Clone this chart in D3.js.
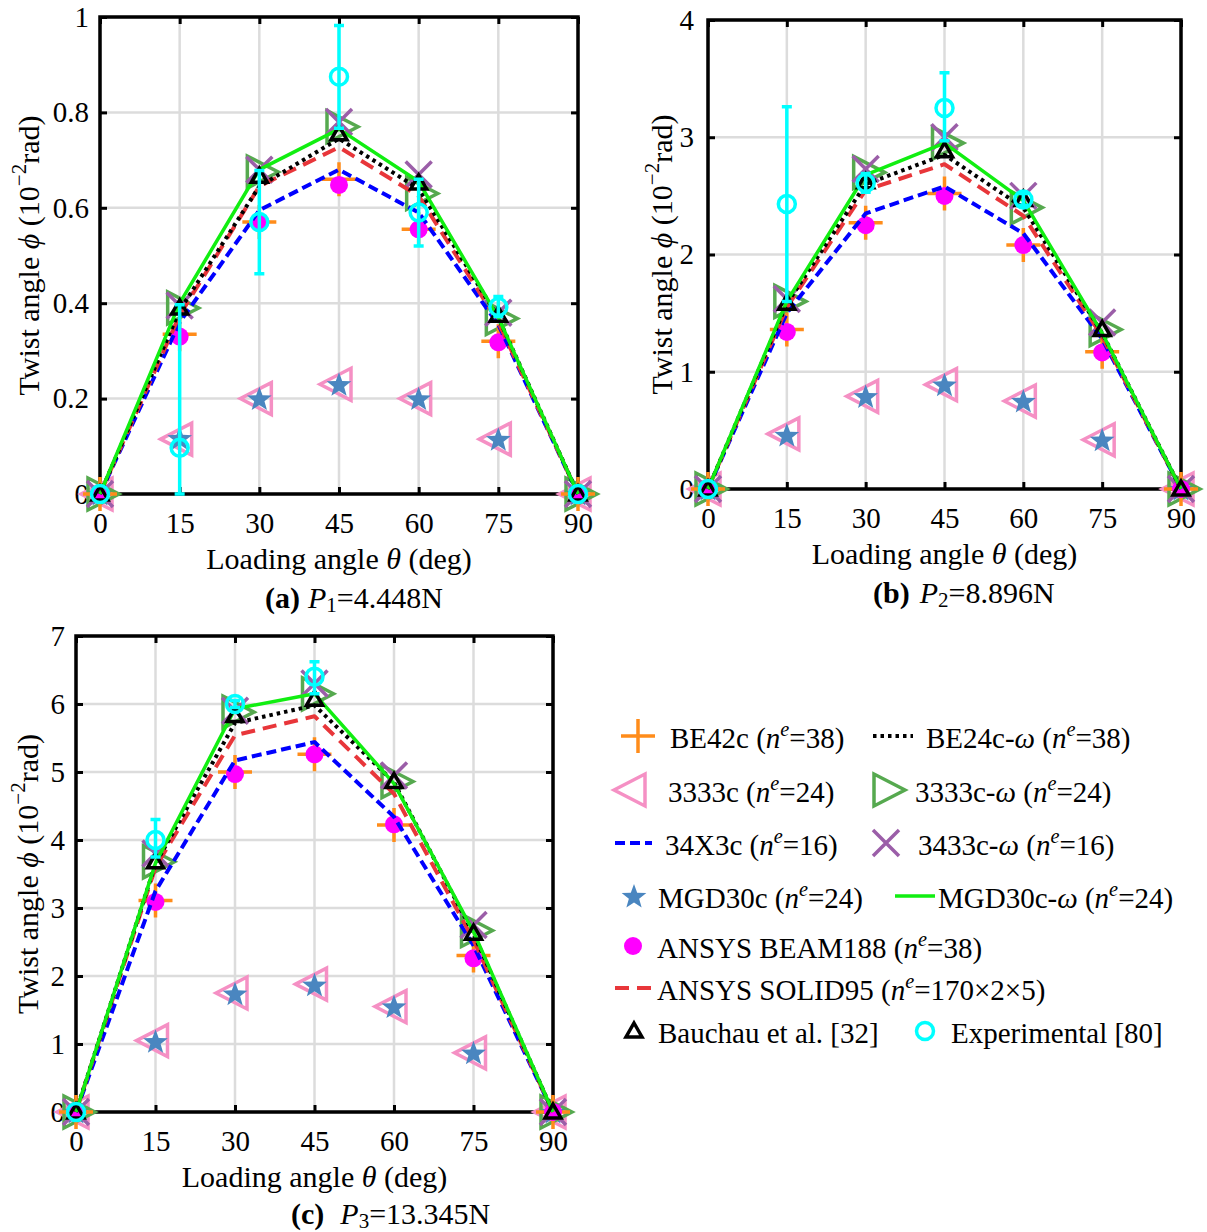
<!DOCTYPE html>
<html><head><meta charset="utf-8">
<script src="https://cdn.jsdelivr.net/npm/d3@7"></script>
<style>
body{margin:0;background:#fff}
svg{display:block}
text{font-family:"Liberation Serif","Times New Roman",serif;fill:#000}
</style>
</head><body>
<svg id="chart" width="1207" height="1232"></svg>
<script>
// ---------- data ----------
const theta = [0, 15, 30, 45, 60, 75, 90];
const xTicks = [0, 15, 30, 45, 60, 75, 90];
const xTickLabels = ["0", "15", "30", "45", "60", "75", "90"];
const yTicksA = [0, 0.2, 0.4, 0.6, 0.8, 1];
const yTickLabelsA = ["0", "0.2", "0.4", "0.6", "0.8", "1"];
const yTicksB = [0, 1, 2, 3, 4];
const yTickLabelsB = ["0", "1", "2", "3", "4"];
const yTicksC = [0, 1, 2, 3, 4, 5, 6, 7];
const yTickLabelsC = ["0", "1", "2", "3", "4", "5", "6", "7"];

// panel (a) P1 = 4.448 N
const be42cA   = [0, 0.335, 0.57, 0.66, 0.555, 0.32, 0];
const be24cwA  = [0, 0.385, 0.645, 0.745, 0.64, 0.37, 0];
const c3333A   = [0, 0.115, 0.2, 0.23, 0.2, 0.115, 0];
const c3333wA  = [0, 0.39, 0.675, 0.77, 0.63, 0.368, 0];
const x34x3cA  = [0, 0.36, 0.595, 0.68, 0.59, 0.355, 0];
const c3433wA  = [0, 0.395, 0.68, 0.78, 0.67, 0.38, 0];
const mgd30cA  = [0, 0.117, 0.2, 0.23, 0.2, 0.115, 0];
const mgd30cwA = [0, 0.4, 0.68, 0.765, 0.655, 0.37, 0];
const beam188A = [0, 0.33, 0.57, 0.648, 0.555, 0.318, 0];
const solid95A = [0, 0.375, 0.645, 0.727, 0.625, 0.36, 0];
const bauchauA = [0, 0.39, 0.666, 0.755, 0.652, 0.375, 0];
const expThetaA = [0, 15, 30, 45, 60, 75, 90];
const expA     = [0, 0.097, 0.57, 0.875, 0.59, 0.392, 0];
const expLoA   = [0, 0, 0.462, 0.767, 0.52, 0.372, 0];
const expHiA   = [0, 0.397, 0.678, 0.982, 0.66, 0.414, 0];

// panel (b) P2 = 8.896 N
const be42cB   = [0, 1.36, 2.27, 2.52, 2.08, 1.17, 0];
const be24cwB  = [0, 1.58, 2.6, 2.85, 2.4, 1.33, 0];
const c3333B   = [0, 0.47, 0.79, 0.89, 0.75, 0.42, 0];
const c3333wB  = [0, 1.6, 2.7, 2.95, 2.4, 1.36, 0];
const x34x3cB  = [0, 1.5, 2.35, 2.58, 2.18, 1.28, 0];
const c3433wB  = [0, 1.62, 2.73, 3.0, 2.5, 1.42, 0];
const mgd30cB  = [0, 0.46, 0.79, 0.89, 0.75, 0.42, 0];
const mgd30cwB = [0, 1.6, 2.68, 2.95, 2.46, 1.33, 0];
const beam188B = [0, 1.34, 2.25, 2.5, 2.08, 1.165, 0];
const solid95B = [0, 1.55, 2.55, 2.77, 2.33, 1.3, 0];
const bauchauB = [0, 1.585, 2.62, 2.885, 2.47, 1.36, 0];
const expThetaB = [0, 15, 30, 45, 60];
const expB     = [0, 2.43, 2.61, 3.25, 2.47];
const expLoB   = [0, 1.6, 2.53, 2.97, 2.42];
const expHiB   = [0, 3.26, 2.69, 3.55, 2.52];

// panel (c) P3 = 13.345 N
const be42cC   = [0, 3.11, 5.0, 5.26, 4.22, 2.3, 0];
const be24cwC  = [0, 3.65, 5.72, 5.98, 4.85, 2.62, 0];
const c3333C   = [0, 1.05, 1.75, 1.88, 1.55, 0.87, 0];
const c3333wC  = [0, 3.68, 5.88, 6.15, 4.86, 2.67, 0];
const x34x3cC  = [0, 3.25, 5.17, 5.44, 4.34, 2.45, 0];
const c3433wC  = [0, 3.8, 5.9, 6.3, 4.95, 2.75, 0];
const mgd30cC  = [0, 1.04, 1.74, 1.87, 1.55, 0.87, 0];
const mgd30cwC = [0, 3.66, 5.93, 6.15, 4.83, 2.65, 0];
const beam188C = [0, 3.09, 4.97, 5.26, 4.23, 2.26, 0];
const solid95C = [0, 3.6, 5.54, 5.82, 4.68, 2.53, 0];
const bauchauC = [0, 3.68, 5.83, 6.07, 4.86, 2.63, 0];
const expThetaC = [0, 15, 30, 45];
const expC     = [0, 4.0, 6.0, 6.4];
const expLoC   = [0, 3.75, 5.95, 6.15];
const expHiC   = [0, 4.3, 6.05, 6.62];

// legend labels (flags: i = italic, b = bold, sup / sub)
const legendLabels = {
  be42c:   [["BE42c ("], ["n","i"], ["e","i sup"], ["=38)"]],
  be24cw:  [["BE24c-"], ["ω","i"], [" ("], ["n","i"], ["e","i sup"], ["=38)"]],
  c3333:   [["3333c ("], ["n","i"], ["e","i sup"], ["=24)"]],
  c3333w:  [["3333c-"], ["ω","i"], [" ("], ["n","i"], ["e","i sup"], ["=24)"]],
  x34x3c:  [["34X3c ("], ["n","i"], ["e","i sup"], ["=16)"]],
  c3433w:  [["3433c-"], ["ω","i"], [" ("], ["n","i"], ["e","i sup"], ["=16)"]],
  mgd30c:  [["MGD30c ("], ["n","i"], ["e","i sup"], ["=24)"]],
  mgd30cw: [["MGD30c-"], ["ω","i"], [" ("], ["n","i"], ["e","i sup"], ["=24)"]],
  beam188: [["ANSYS BEAM188 ("], ["n","i"], ["e","i sup"], ["=38)"]],
  solid95: [["ANSYS SOLID95 ("], ["n","i"], ["e","i sup"], ["=170×2×5)"]],
  bauchau: [["Bauchau et al. [32]"]],
  exp:     [["Experimental [80]"]]
};

// ---------- styles ----------
const style = {
  be42c:   {type:"plus",  color:"#ff8c1a"},
  be24cw:  {type:"line",  color:"#000000", dash:"3.5,4", width:4},
  c3333:   {type:"tril",  color:"#f590c4"},
  c3333w:  {type:"trir",  color:"#56a94f"},
  x34x3c:  {type:"line",  color:"#0000ff", dash:"10,5", width:4},
  c3433w:  {type:"cross", color:"#9b5ea8"},
  mgd30c:  {type:"star",  color:"#4a86c0"},
  mgd30cw: {type:"line",  color:"#11ee11", dash:null, width:3.5},
  beam188: {type:"dot",   color:"#ff00ff"},
  solid95: {type:"line",  color:"#e8363a", dash:"14,8", width:4},
  bauchau: {type:"triu",  color:"#000000"},
  exp:     {type:"circ",  color:"#00ffff"}
};
const drawOrder = ["c3333","mgd30c","c3333w","c3433w","be42c","beam188","x34x3c","solid95","be24cw","mgd30cw","bauchau"];

const panels = [
  {x0:100, x1:578, y0:17, y1:494, ymax:1, yTicks:yTicksA, yLabels:yTickLabelsA, ylabX:39, ytp:11,
   data:{be42c:be42cA, be24cw:be24cwA, c3333:c3333A, c3333w:c3333wA, x34x3c:x34x3cA, c3433w:c3433wA,
         mgd30c:mgd30cA, mgd30cw:mgd30cwA, beam188:beam188A, solid95:solid95A, bauchau:bauchauA},
   expT:expThetaA, exp:expA, lo:expLoA, hi:expHiA,
   cap:{x:265, y:608, tag:"(a)", sub:"1", val:"=4.448N", gap:8}},
  {x0:708, x1:1181, y0:20, y1:489, ymax:4, yTicks:yTicksB, yLabels:yTickLabelsB, ylabX:672, ytp:14,
   data:{be42c:be42cB, be24cw:be24cwB, c3333:c3333B, c3333w:c3333wB, x34x3c:x34x3cB, c3433w:c3433wB,
         mgd30c:mgd30cB, mgd30cw:mgd30cwB, beam188:beam188B, solid95:solid95B, bauchau:bauchauB},
   expT:expThetaB, exp:expB, lo:expLoB, hi:expHiB,
   cap:{x:873, y:603, tag:"(b)", sub:"2", val:"=8.896N", gap:10}},
  {x0:76, x1:553, y0:636, y1:1112, ymax:7, yTicks:yTicksC, yLabels:yTickLabelsC, ylabX:38, ytp:11,
   data:{be42c:be42cC, be24cw:be24cwC, c3333:c3333C, c3333w:c3333wC, x34x3c:x34x3cC, c3433w:c3433wC,
         mgd30c:mgd30cC, mgd30cw:mgd30cwC, beam188:beam188C, solid95:solid95C, bauchau:bauchauC},
   expT:expThetaC, exp:expC, lo:expLoC, hi:expHiC,
   cap:{x:291, y:1224, tag:"(c)", sub:"3", val:"=13.345N", gap:16}}
];

const svg = d3.select("#chart");

// ---------- helpers ----------
function richText(g, x, y, parts, fs, anchor, subShift) {
  const t = g.append("text").attr("x", x).attr("y", y).attr("font-size", fs)
    .attr("text-anchor", anchor || "start");
  let shift = 0;
  parts.forEach(p => {
    const f = (p[1] || "").split(" ");
    const ts = t.append("tspan").text(p[0]);
    if (f.includes("i")) ts.attr("font-style", "italic");
    if (f.includes("b")) ts.attr("font-weight", "bold");
    let target = 0;
    if (f.includes("sup")) target = -0.42 * fs;
    if (f.includes("sub")) target = (subShift || 0.2) * fs;
    if (target !== 0) ts.attr("font-size", fs * 0.7);
    if (target !== shift) { ts.attr("dy", target - shift); shift = target; }
    if (p[2]) ts.attr("dx", p[2]);
  });
  return t;
}

function starPath(cx, cy, R, r) {
  const pts = [];
  for (let i = 0; i < 10; i++) {
    const a = -Math.PI / 2 + i * Math.PI / 5;
    const rad = i % 2 === 0 ? R : r;
    pts.push([cx + rad * Math.cos(a), cy + rad * Math.sin(a)]);
  }
  return "M" + pts.map(p => p.join(",")).join("L") + "Z";
}

function marker(g, type, color, cx, cy) {
  switch (type) {
    case "plus":
      g.append("path").attr("d", `M${cx-17},${cy}H${cx+17}M${cx},${cy-17}V${cy+17}`)
        .attr("stroke", color).attr("stroke-width", 3.5).attr("fill", "none");
      break;
    case "cross":
      g.append("path").attr("d", `M${cx-13},${cy-13}L${cx+13},${cy+13}M${cx-13},${cy+13}L${cx+13},${cy-13}`)
        .attr("stroke", color).attr("stroke-width", 3.5).attr("fill", "none");
      break;
    case "tril":
      g.append("path").attr("d", `M${cx-19},${cy}L${cx+12},${cy-16}L${cx+12},${cy+16}Z`)
        .attr("stroke", color).attr("stroke-width", 3.5).attr("fill", "none");
      break;
    case "trir":
      g.append("path").attr("d", `M${cx+19},${cy}L${cx-12},${cy-16}L${cx-12},${cy+16}Z`)
        .attr("stroke", color).attr("stroke-width", 3.5).attr("fill", "none");
      break;
    case "triu":
      g.append("path").attr("d", `M${cx},${cy-8}L${cx+8},${cy+6}L${cx-8},${cy+6}Z`)
        .attr("stroke", color).attr("stroke-width", 3.5).attr("fill", "none");
      break;
    case "star":
      g.append("path").attr("d", starPath(cx, cy + 1, 13, 5.4)).attr("fill", color);
      break;
    case "dot":
      g.append("circle").attr("cx", cx).attr("cy", cy).attr("r", 9).attr("fill", color);
      break;
    case "circ":
      g.append("circle").attr("cx", cx).attr("cy", cy).attr("r", 8.5)
        .attr("fill", "none").attr("stroke", color).attr("stroke-width", 3.5);
      break;
  }
}

// ---------- panels ----------
panels.forEach(P => {
  const g = svg.append("g");
  const x = d3.scaleLinear().domain([0, 90]).range([P.x0, P.x1]);
  const y = d3.scaleLinear().domain([0, P.ymax]).range([P.y1, P.y0]);

  // grid
  const grid = g.append("g").attr("stroke", "#dcdcdc").attr("stroke-width", 2.5);
  xTicks.forEach(t => grid.append("line").attr("x1", x(t)).attr("x2", x(t)).attr("y1", P.y0).attr("y2", P.y1));
  P.yTicks.forEach(t => grid.append("line").attr("x1", P.x0).attr("x2", P.x1).attr("y1", y(t)).attr("y2", y(t)));

  // axes
  const fmtX = d => xTickLabels[xTicks.indexOf(d)];
  const fmtY = d => P.yLabels[P.yTicks.indexOf(d)];
  const ax = [
    g.append("g").attr("transform", `translate(0,${P.y1})`).call(d3.axisBottom(x).tickValues(xTicks).tickFormat(fmtX).tickSize(-7).tickPadding(10)),
    g.append("g").attr("transform", `translate(0,${P.y0})`).call(d3.axisTop(x).tickValues(xTicks).tickFormat("").tickSize(-7)),
    g.append("g").attr("transform", `translate(${P.x0},0)`).call(d3.axisLeft(y).tickValues(P.yTicks).tickFormat(fmtY).tickSize(-7).tickPadding(P.ytp)),
    g.append("g").attr("transform", `translate(${P.x1},0)`).call(d3.axisRight(y).tickValues(P.yTicks).tickFormat("").tickSize(-7))
  ];
  ax.forEach(a => {
    a.select(".domain").remove();
    a.selectAll(".tick line").attr("stroke", "#000").attr("stroke-width", 3);
    a.selectAll("text").attr("font-size", 29).attr("font-family", null).attr("fill", "#000");
  });
  ax[0].selectAll("text").attr("y", 39).attr("dy", null);
  g.append("rect").attr("x", P.x0).attr("y", P.y0).attr("width", P.x1 - P.x0).attr("height", P.y1 - P.y0)
    .attr("fill", "none").attr("stroke", "#000").attr("stroke-width", 3.5);

  // axis titles
  richText(g, (P.x0 + P.x1) / 2, P.y1 + 75, [["Loading angle "], ["θ", "i"], [" (deg)"]], 30, "middle");
  const yt = richText(g, 0, 0, [["Twist angle "], ["ϕ", "i"], [" (10"], ["−2", "sup"], ["rad)"]], 30, "middle");
  yt.attr("transform", `translate(${P.ylabX},${(P.y0 + P.y1) / 2}) rotate(-90)`);

  // caption
  richText(g, P.cap.x, P.cap.y, [[P.cap.tag, "b"], ["P", "i", P.cap.gap], [P.cap.sub, "sub"], [P.cap.val]], 30, "start", 0.12);

  // series
  const dg = g.append("g");
  drawOrder.forEach(key => {
    const s = style[key];
    const vals = P.data[key];
    const pts = theta.map((t, i) => [t, vals[i]]);
    if (s.type === "line") {
      dg.append("path").datum(pts)
        .attr("d", d3.line().x(d => x(d[0])).y(d => y(d[1])))
        .attr("fill", "none").attr("stroke", s.color).attr("stroke-width", s.width)
        .attr("stroke-dasharray", s.dash).attr("stroke-linejoin", "round");
    } else {
      pts.forEach(d => marker(dg, s.type, s.color, x(d[0]), y(d[1])));
    }
  });

  // experimental with error bars
  const eg = g.append("g");
  P.expT.forEach((t, i) => {
    const cx = x(t);
    if (P.hi[i] - P.lo[i] > 0) {
      eg.append("path")
        .attr("d", `M${cx},${y(P.lo[i])}V${y(P.hi[i])}M${cx-5},${y(P.hi[i])}H${cx+5}M${cx-5},${y(P.lo[i])}H${cx+5}`)
        .attr("stroke", "#00ffff").attr("stroke-width", 3.5).attr("fill", "none");
    }
    marker(eg, "circ", "#00ffff", cx, y(P.exp[i]));
  });
});

// ---------- legend ----------
const lg = svg.append("g");
const legendRows = [
  {key:"be42c",   mx:638, tx:670, by:748},
  {key:"be24cw",  mx:[873,913], tx:926, by:748},
  {key:"c3333",   mx:633, tx:668, by:802},
  {key:"c3333w",  mx:886, tx:915, by:802},
  {key:"x34x3c",  mx:[615,652], tx:665, by:855},
  {key:"c3433w",  mx:886, tx:918, by:855},
  {key:"mgd30c",  mx:634, tx:658, by:908},
  {key:"mgd30cw", mx:[895,935], tx:938, by:908},
  {key:"beam188", mx:633, tx:657, by:958},
  {key:"solid95", mx:[615,651], tx:657, by:1000},
  {key:"bauchau", mx:634, tx:658, by:1043},
  {key:"exp",     mx:925, tx:951, by:1043}
];
legendRows.forEach(r => {
  const s = style[r.key];
  const my = r.by - 12;
  if (s.type === "line") {
    lg.append("line").attr("x1", r.mx[0]).attr("x2", r.mx[1]).attr("y1", my).attr("y2", my)
      .attr("stroke", s.color).attr("stroke-width", s.width).attr("stroke-dasharray", s.dash);
  } else {
    marker(lg, s.type, s.color, r.mx, my);
  }
  richText(lg, r.tx, r.by, legendLabels[r.key], 29, "start");
});
</script>
</body></html>
